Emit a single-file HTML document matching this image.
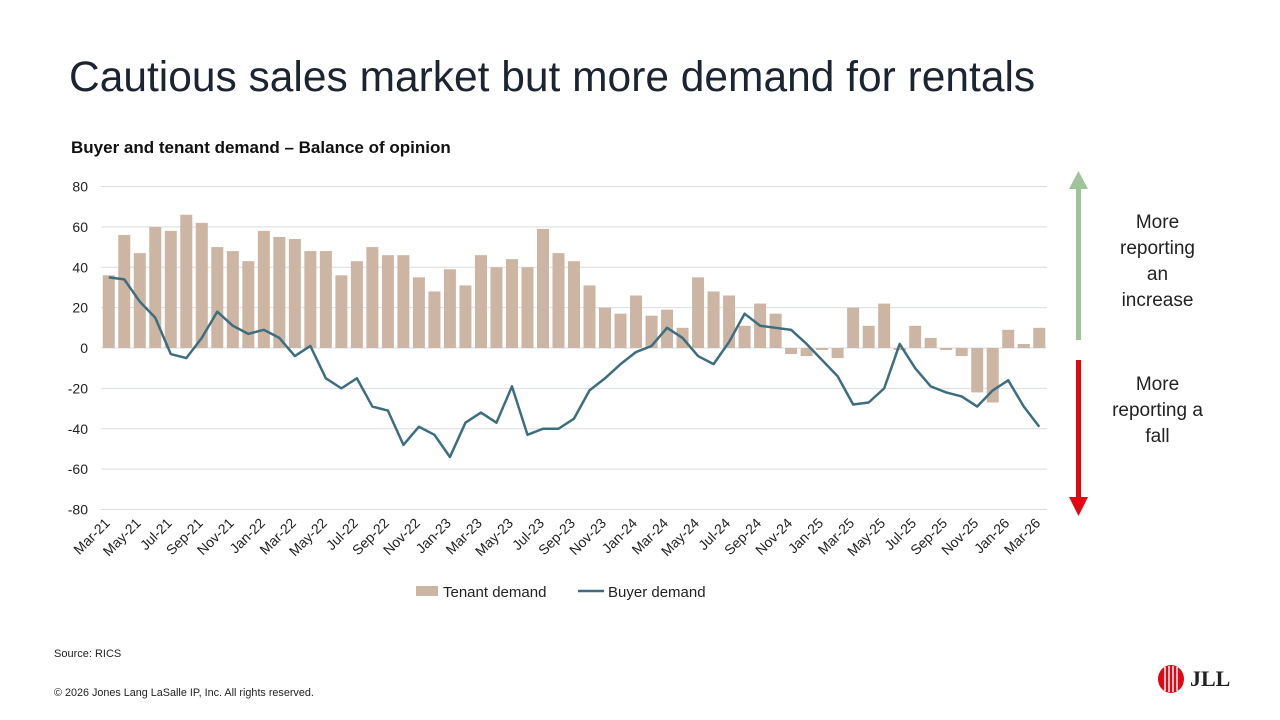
<!DOCTYPE html>
<html><head><meta charset="utf-8"><style>
body{margin:0;width:1280px;height:720px;background:#fff;font-family:"Liberation Sans",Arial,sans-serif;overflow:hidden;position:relative}
.t{position:absolute}
</style></head><body>
<div class="t" style="left:69px;top:54px;font-size:42.5px;color:#1b2430">Cautious sales market but more demand for rentals</div>
<div class="t" style="left:71px;top:138px;font-size:17px;font-weight:bold;color:#111">Buyer and tenant demand – Balance of opinion</div>
<svg id="c" class="t" style="left:0;top:0" width="1280" height="720"></svg>
<div class="t" style="left:1110px;top:210px;width:95px;text-align:center;font-size:19px;line-height:26px;color:#222">More reporting an increase</div>
<div class="t" style="left:1100px;top:372px;width:115px;text-align:center;font-size:19px;line-height:26px;color:#222">More reporting a fall</div>
<div class="t" style="left:54px;top:648px;font-size:11px;color:#222">Source: RICS</div>
<div class="t" style="left:54px;top:687px;font-size:10.8px;color:#222">© 2026 Jones Lang LaSalle IP, Inc. All rights reserved.</div>
<div class="t" style="left:1156px;top:664px;display:flex;align-items:center;gap:4px">
<svg width="30" height="30"><ellipse cx="15" cy="15" rx="13" ry="14" fill="#e30613"/><g stroke="#fff" stroke-width="1.5" fill="none"><line x1="9" y1="3" x2="9" y2="27"/><line x1="13" y1="2" x2="13" y2="28"/><line x1="17" y1="2" x2="17" y2="28"/><line x1="21" y1="3" x2="21" y2="27"/></g></svg>
<span style="font-family:'Liberation Serif',serif;font-weight:bold;font-size:22px;color:#222">JLL</span></div>
<script>
const months=[];(function(){const m=['Jan','Feb','Mar','Apr','May','Jun','Jul','Aug','Sep','Oct','Nov','Dec'];let mi=2,y=21;for(let i=0;i<61;i++){months.push(m[mi]+'-'+y);mi++;if(mi==12){mi=0;y++;}}})();
const tenant=[36,56,47,60,58,66,62,50,48,43,58,55,54,48,48,36,43,50,46,46,35,28,39,31,46,40,44,40,59,47,43,31,20,17,26,16,19,10,35,28,26,11,22,17,-3,-4,-1,-5,20,11,22,-1,11,5,-1,-4,-22,-27,9,2,10];
const buyer=[35,34,23,15,-3,-5,5,18,11,7,9,5,-4,1,-15,-20,-15,-29,-31,-48,-39,-43,-54,-37,-32,-37,-19,-43,-40,-40,-35,-21,-15,-8,-2,1,10,5,-4,-8,3,17,11,10,9,2,-6,-14,-28,-27,-20,2,-10,-19,-22,-24,-29,-21,-16,-29,-39];
const yTicks=[80,60,40,20,0,-20,-40,-60,-80];
const svg=document.getElementById('c'),NS='http://www.w3.org/2000/svg';
const X0=101,X1=1047,step=(X1-X0)/61;
const x=i=>X0+step*(i+0.5), y=v=>348-v*(161.5/80);
function mk(t,a,p){const e=document.createElementNS(NS,t);for(const k in a)e.setAttribute(k,a[k]);(p||svg).appendChild(e);return e;}
yTicks.forEach(v=>{const l=mk('line',{x1:X0,x2:X1,y1:y(v),y2:y(v),stroke:'#d9dde3','stroke-width':1});


const t=mk('text',{x:88,y:y(v)+5,'text-anchor':'end','font-size':14,fill:'#222'});t.textContent=v;

});
tenant.forEach((v,i)=>{const r=mk('rect',{x:x(i)-6,width:12,y:Math.min(y(v),y(0)),height:Math.abs(y(v)-y(0)),fill:'#cdb5a3'});

});
const pl=mk('polyline',{points:buyer.map((v,i)=>x(i)+','+y(v)).join(' '),fill:'none',stroke:'#3d6e80','stroke-width':2.5,'stroke-linejoin':'round'});


months.forEach((m,i)=>{if(i%2)return;const t=mk('text',{x:x(i)+2,y:524,'text-anchor':'end','font-size':14,fill:'#222',transform:`rotate(-45 ${x(i)+2} 524)`});t.textContent=m;

});
const lg=mk('g',{});
mk('rect',{x:416,y:586,width:22,height:10,fill:'#cdb5a3'},lg);
let t1=mk('text',{x:443,y:597,'font-size':15,fill:'#222'},lg);t1.textContent='Tenant demand';
mk('line',{x1:578,x2:604,y1:591,y2:591,stroke:'#3d6e80','stroke-width':2.5},lg);
let t2=mk('text',{x:608,y:597,'font-size':15,fill:'#222'},lg);t2.textContent='Buyer demand';
const ag=mk('g',{});
mk('rect',{x:1076,y:186,width:5,height:154,fill:'#9fc49a'},ag);
mk('polygon',{points:'1069,189 1088,189 1078.5,171',fill:'#9fc49a'},ag);
mk('rect',{x:1076,y:360,width:5,height:140,fill:'#e30613'},ag);
mk('polygon',{points:'1069,497 1088,497 1078.5,516',fill:'#e30613'},ag);
</script>
</body></html>
